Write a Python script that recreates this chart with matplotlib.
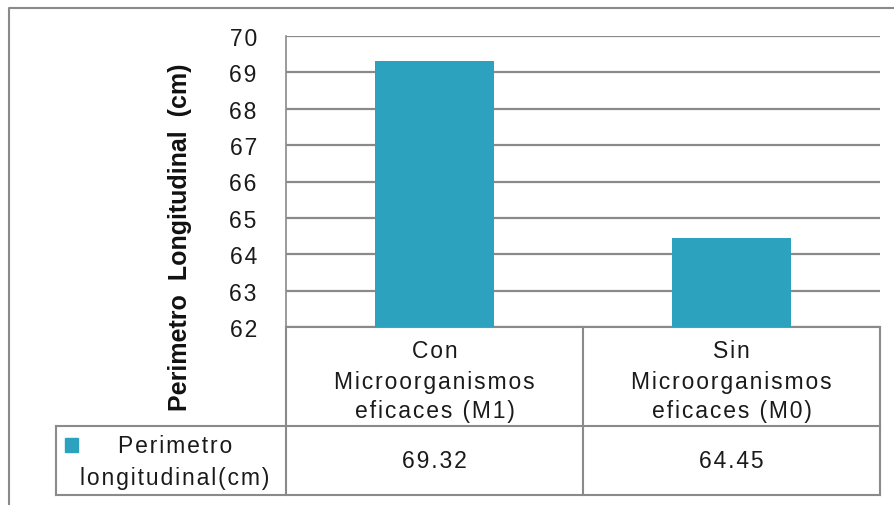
import matplotlib
matplotlib.use('Agg')
import matplotlib.pyplot as plt
from matplotlib.patches import Rectangle
from matplotlib.transforms import blended_transform_factory

plt.rcParams['font.family'] = ['Liberation Sans Narrow', 'Liberation Sans', 'DejaVu Sans']

#--------------
# data
categories = ['Con\nMicroorganismos\neficaces (M1)', 'Sin\nMicroorganismos\neficaces (M0)']
values = [69.32, 64.45]
series_name = 'Perimetro\nlongitudinal(cm)'
y_label = 'Perimetro  Longitudinal  (cm)'
y_ticks = [62, 63, 64, 65, 66, 67, 68, 69, 70]

bar_colour = '#2ca2bf'
line_colour = '#8a8a8a'
text_colour = '#1a1a1a'
fs = 16.5

def spaced(s, gap='\u200a'):
    # loose letter spacing as in the original sheet
    return gap.join(s)

#--------------
W, H = 895, 506
fig = plt.figure(figsize=(W / 100, H / 100), dpi=100)

# full-figure overlay in pixel units for the frame and data table
lay = fig.add_axes([0, 0, 1, 1])
lay.set_xlim(0, W)
lay.set_ylim(H, 0)
lay.axis('off')

plot_l, plot_r, plot_t, plot_b = 286, 880, 37, 328
ax = fig.add_axes([plot_l / W, 1 - plot_b / H, (plot_r - plot_l) / W, (plot_b - plot_t) / H])
ax.bar(range(len(values)), values, width=0.4, color=bar_colour, zorder=3)
ax.set_xlim(-0.5, len(values) - 0.5)
ax.set_ylim(y_ticks[0], y_ticks[-1])
ax.set_yticks(y_ticks)
ax.set_yticklabels([spaced(str(t)) for t in y_ticks])
ax.set_xticks([])
ax.grid(axis='y', color=line_colour, lw=1.6)
ax.set_axisbelow(True)
for s in ['top', 'right', 'bottom']:
    ax.spines[s].set_visible(False)
ax.spines['left'].set_color(line_colour)
ax.spines['left'].set_linewidth(1.2)
ax.tick_params(axis='y', length=0, pad=21, labelsize=fs, labelcolor=text_colour)
ax.patch.set_alpha(0)

fig.text(180 / W, 1 - 237 / H, y_label, rotation=90, ha='center', va='center',
         fontsize=18, fontweight='bold', color='#111111')

# data table under the plot
tr = blended_transform_factory(ax.transData, lay.transData)
row1, row2, row3 = plot_b, 427, 496
lw = 1.5
for xb in [i - 0.5 for i in range(len(values) + 1)]:
    lay.plot([xb, xb], [row1, row3], color=line_colour, lw=lw, transform=tr)
lay.plot([-0.5, len(values) - 0.5], [row1, row1], color=line_colour, lw=lw, transform=tr)
lay.plot([56, plot_r], [row2, row2], color=line_colour, lw=lw)
lay.plot([56, plot_r], [row3, row3], color=line_colour, lw=lw)
lay.plot([56, 56], [row2, row3], color=line_colour, lw=lw)

for i, cat in enumerate(categories):
    for line, yy in zip(cat.split('\n'), [351, 383, 412]):
        lay.text(i, yy, spaced(line), transform=tr, ha='center', va='center',
                 fontsize=fs, color=text_colour)
    lay.text(i, 462, spaced(f'{values[i]:.2f}'), transform=tr, ha='center', va='center',
             fontsize=fs, color=text_colour)

# legend key
lay.add_patch(Rectangle((65, 439), 13, 14, color=bar_colour))
for line, yy in zip(series_name.split('\n'), [447, 479]):
    lay.text(175, yy, spaced(line), ha='center', va='center', fontsize=fs, color=text_colour)

# outer chart frame
lay.plot([9, 9, W], [H, 9, 9], color=line_colour, lw=1.5)

fig.savefig('out.png', dpi=100)
